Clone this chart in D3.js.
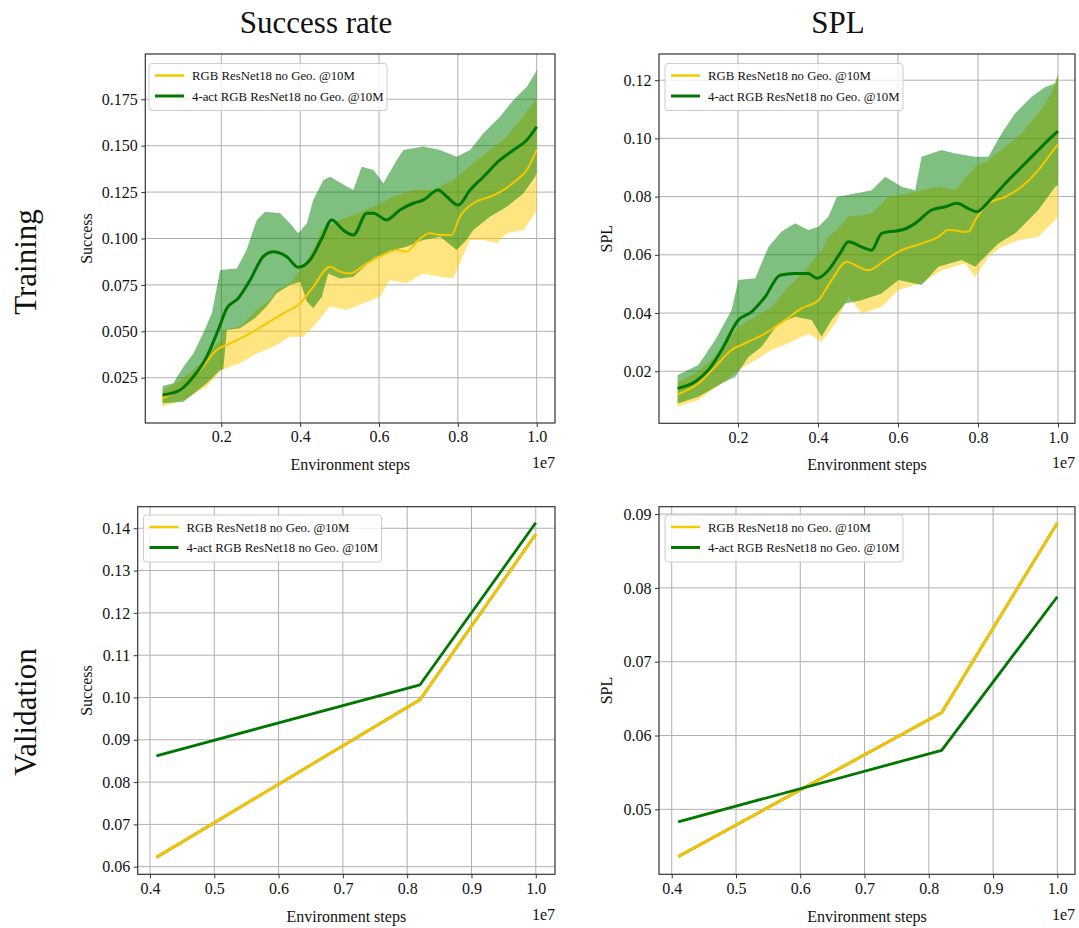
<!DOCTYPE html>
<html>
<head>
<meta charset="utf-8">
<script src="https://cdn.jsdelivr.net/npm/d3@7"></script>
<style>
  body { margin: 0; background: #fff; }
  svg text { font-family: "Liberation Serif", "Times New Roman", serif; fill: #111; }
</style>
</head>
<body>
<svg id="fig" width="1079" height="928"></svg>
<script>
// ---- Series labels and colours ----
const seriesNames = ["RGB ResNet18 no Geo. @10M", "4-act RGB ResNet18 no Geo. @10M"];
const seriesColors = ["#f5c800", "#007800"];
const bandColors = ["#ffcc00", "#008000"];

// ---- Training: success rate (x in units of 1e7 steps) ----
const trSuccYellowMean = [[0.05,0.0139],[0.104,0.0202],[0.146,0.0291],[0.188,0.0399],[0.222,0.0435],[0.273,0.0489],[0.315,0.0543],[0.357,0.0597],[0.40,0.0651],[0.433,0.074],[0.476,0.0848],[0.501,0.0821],[0.526,0.0812],[0.569,0.0866],[0.602,0.0902],[0.645,0.0938],[0.670,0.0929],[0.696,0.0983],[0.729,0.1028],[0.755,0.1019],[0.784,0.1019],[0.805,0.1117],[0.839,0.119],[0.881,0.1225],[0.915,0.1261],[0.949,0.1315],[0.975,0.1369],[1.0,0.1477]];
const trSuccYellowLow = [[0.05,0.0094],[0.104,0.013],[0.163,0.0202],[0.201,0.0291],[0.222,0.0309],[0.247,0.0328],[0.29,0.0381],[0.332,0.0417],[0.374,0.0471],[0.408,0.0471],[0.433,0.0525],[0.476,0.0635],[0.518,0.0615],[0.56,0.0651],[0.602,0.0686],[0.628,0.0776],[0.67,0.0759],[0.712,0.0812],[0.755,0.0794],[0.788,0.0785],[0.805,0.0866],[0.831,0.0992],[0.865,0.0992],[0.899,0.0974],[0.924,0.1028],[0.966,0.1046],[0.996,0.1136],[1.0,0.115]];
const trSuccYellowHigh = [[0.05,0.018],[0.1,0.024],[0.15,0.033],[0.2,0.046],[0.205,0.0507],[0.247,0.0525],[0.29,0.0615],[0.323,0.0669],[0.34,0.0722],[0.37,0.075],[0.4,0.083],[0.433,0.0938],[0.455,0.1046],[0.501,0.110],[0.586,0.1171],[0.636,0.1225],[0.687,0.1261],[0.738,0.1261],[0.788,0.1315],[0.839,0.1405],[0.881,0.1477],[0.924,0.1549],[0.966,0.1656],[0.996,0.1746],[1.0,0.176]];
const trSuccGreenMean = [[0.051,0.0157],[0.095,0.0184],[0.129,0.0255],[0.163,0.0363],[0.192,0.0507],[0.214,0.0624],[0.243,0.0678],[0.273,0.0776],[0.306,0.0902],[0.332,0.0929],[0.366,0.0902],[0.395,0.0845],[0.425,0.0884],[0.455,0.1001],[0.48,0.110],[0.509,0.1046],[0.535,0.1019],[0.569,0.1136],[0.586,0.1136],[0.619,0.110],[0.653,0.1154],[0.687,0.119],[0.712,0.1207],[0.75,0.1261],[0.772,0.1225],[0.801,0.118],[0.831,0.1261],[0.865,0.1333],[0.907,0.1423],[0.941,0.1477],[0.975,0.1531],[1.0,0.1602]];
const trSuccGreenHigh = [[0.051,0.0205],[0.078,0.022],[0.104,0.0309],[0.129,0.038],[0.154,0.0489],[0.176,0.0597],[0.197,0.083],[0.239,0.0839],[0.264,0.0938],[0.281,0.1046],[0.29,0.110],[0.311,0.1144],[0.349,0.1136],[0.374,0.1082],[0.395,0.1028],[0.417,0.1082],[0.433,0.1207],[0.459,0.1315],[0.476,0.1333],[0.518,0.128],[0.535,0.1261],[0.556,0.1387],[0.586,0.1369],[0.611,0.1297],[0.645,0.1423],[0.662,0.1477],[0.712,0.1495],[0.755,0.1477],[0.797,0.1441],[0.831,0.1477],[0.865,0.1567],[0.907,0.1656],[0.941,0.1746],[0.975,0.1818],[0.996,0.189],[1.0,0.191]];
const trSuccGreenLow = [[0.051,0.0112],[0.104,0.0121],[0.163,0.022],[0.197,0.0291],[0.205,0.0295],[0.214,0.0507],[0.247,0.0516],[0.285,0.057],[0.315,0.0633],[0.34,0.0705],[0.374,0.0749],[0.40,0.0767],[0.417,0.066],[0.433,0.0624],[0.455,0.0686],[0.471,0.0812],[0.501,0.0785],[0.535,0.0794],[0.586,0.0893],[0.636,0.0938],[0.67,0.0956],[0.712,0.0992],[0.755,0.101],[0.797,0.0938],[0.822,0.0992],[0.839,0.1046],[0.881,0.1117],[0.924,0.1171],[0.966,0.1243],[0.996,0.1333],[1.0,0.135]];

// ---- Training: SPL ----
const trSplYellowMean = [[0.049,0.0121],[0.101,0.0158],[0.143,0.0215],[0.184,0.0273],[0.218,0.0296],[0.268,0.033],[0.318,0.0376],[0.359,0.0416],[0.401,0.0444],[0.434,0.0513],[0.472,0.0576],[0.501,0.0559],[0.526,0.0547],[0.568,0.0582],[0.609,0.0616],[0.659,0.0639],[0.701,0.0662],[0.726,0.0685],[0.776,0.0679],[0.793,0.0719],[0.826,0.0777],[0.868,0.0799],[0.909,0.0834],[0.951,0.0891],[0.976,0.0937],[1.0,0.098]];
const trSplYellowLow = [[0.049,0.0078],[0.101,0.0101],[0.159,0.0158],[0.201,0.0204],[0.243,0.0238],[0.284,0.0273],[0.326,0.0296],[0.376,0.033],[0.409,0.0301],[0.443,0.0364],[0.476,0.0456],[0.509,0.0399],[0.559,0.0421],[0.601,0.0479],[0.659,0.0502],[0.709,0.0547],[0.768,0.057],[0.793,0.0524],[0.826,0.0593],[0.859,0.0627],[0.901,0.065],[0.951,0.0662],[0.993,0.0719],[1.0,0.073]];
const trSplYellowHigh = [[0.049,0.016],[0.101,0.02],[0.15,0.026],[0.201,0.0353],[0.243,0.0387],[0.284,0.0421],[0.326,0.049],[0.368,0.0547],[0.409,0.0616],[0.426,0.0662],[0.447,0.0685],[0.476,0.0731],[0.534,0.0742],[0.576,0.0799],[0.626,0.0811],[0.659,0.0822],[0.701,0.0834],[0.743,0.0822],[0.793,0.0902],[0.826,0.0925],[0.868,0.0971],[0.909,0.1017],[0.951,0.1086],[0.984,0.1155],[1.0,0.1223]];
const trSplGreenMean = [[0.049,0.0141],[0.0925,0.0164],[0.126,0.0204],[0.159,0.0273],[0.201,0.0376],[0.234,0.0404],[0.268,0.0456],[0.305,0.053],[0.343,0.0536],[0.376,0.0536],[0.397,0.0519],[0.426,0.0547],[0.455,0.0605],[0.476,0.0645],[0.509,0.0627],[0.534,0.0616],[0.559,0.0674],[0.576,0.0679],[0.609,0.0685],[0.643,0.0708],[0.684,0.0754],[0.718,0.0765],[0.747,0.0777],[0.776,0.0759],[0.797,0.0748],[0.826,0.0782],[0.868,0.0845],[0.909,0.0902],[0.951,0.096],[0.98,0.1],[1.0,0.1025]];
const trSplGreenHigh = [[0.049,0.0187],[0.101,0.0221],[0.143,0.0307],[0.184,0.041],[0.201,0.0513],[0.243,0.0519],[0.276,0.0627],[0.309,0.068],[0.343,0.0708],[0.376,0.0685],[0.401,0.0696],[0.426,0.0731],[0.447,0.0799],[0.493,0.0811],[0.534,0.0822],[0.568,0.0868],[0.609,0.0834],[0.643,0.0822],[0.659,0.0937],[0.709,0.096],[0.743,0.0948],[0.793,0.0937],[0.826,0.0937],[0.859,0.1017],[0.893,0.1086],[0.934,0.1143],[0.968,0.1177],[0.993,0.1189],[1.0,0.122]];
const trSplGreenLow = [[0.049,0.0089],[0.101,0.0112],[0.159,0.0158],[0.193,0.0181],[0.226,0.0249],[0.259,0.0284],[0.301,0.0364],[0.343,0.0387],[0.384,0.0376],[0.409,0.0318],[0.434,0.0376],[0.468,0.0433],[0.509,0.0444],[0.559,0.0467],[0.601,0.0513],[0.659,0.0496],[0.701,0.0559],[0.759,0.0582],[0.793,0.0559],[0.826,0.0605],[0.851,0.0639],[0.893,0.0674],[0.951,0.0754],[0.993,0.0834],[1.0,0.084]];

// ---- Validation checkpoints ----
const valSteps = [0.41, 0.82, 1.0];
const valSuccYellow = [0.0622, 0.0995, 0.1386];
const valSuccGreen = [0.0862, 0.1030, 0.1413];
const valSplYellow = [0.0436, 0.0631, 0.0888];
const valSplGreen = [0.0483, 0.0580, 0.0788];

// ---- Tick values ----
const trSuccTicksY = [0.025, 0.05, 0.075, 0.1, 0.125, 0.15, 0.175];
const trSplTicksY = [0.02, 0.04, 0.06, 0.08, 0.10, 0.12];
const trTicksX = [0.2, 0.4, 0.6, 0.8, 1.0];
const valSuccTicksY = [0.06, 0.07, 0.08, 0.09, 0.10, 0.11, 0.12, 0.13, 0.14];
const valSplTicksY = [0.05, 0.06, 0.07, 0.08, 0.09];
const valTicksX = [0.4, 0.5, 0.6, 0.7, 0.8, 0.9, 1.0];

const svg = d3.select("#fig");
const defs = svg.append("defs");
let clipId = 0;

function drawPanel(p) {
  const x = d3.scaleLinear().domain(p.xDomain).range([p.left, p.right]);
  const y = d3.scaleLinear().domain(p.yDomain).range([p.bottom, p.top]);
  const g = svg.append("g");
  const id = "clip" + (clipId++);
  defs.append("clipPath").attr("id", id).append("rect")
    .attr("x", p.left).attr("y", p.top)
    .attr("width", p.right - p.left).attr("height", p.bottom - p.top);

  // grid
  const grid = g.append("g").attr("stroke", "#b0b0b0").attr("stroke-width", 1);
  p.xTicks.forEach(t => grid.append("line")
    .attr("x1", x(t)).attr("x2", x(t)).attr("y1", p.top).attr("y2", p.bottom));
  p.yTicks.forEach(t => grid.append("line")
    .attr("x1", p.left).attr("x2", p.right).attr("y1", y(t)).attr("y2", y(t)));

  const plot = g.append("g").attr("clip-path", `url(#${id})`);
  const line = d3.line().x(d => x(d[0])).y(d => y(d[1]));

  // shaded bands (min/max envelope across runs)
  (p.bands || []).forEach(b => {
    const poly = b.high.concat(b.low.slice().reverse());
    plot.append("path").attr("d", line(poly) + "Z")
      .attr("fill", b.color).attr("fill-opacity", 0.5).attr("stroke", "none");
  });
  // mean / checkpoint lines
  p.lines.forEach(l => {
    const gen = d3.line().x(d => x(d[0])).y(d => y(d[1]))
      .curve(l.smooth ? d3.curveMonotoneX : d3.curveLinear);
    if (l.under) {
      plot.append("path").attr("d", gen(l.data)).attr("fill", "none")
        .attr("stroke", l.under).attr("stroke-width", l.width + 1)
        .attr("stroke-linejoin", "round");
    }
    plot.append("path").attr("d", gen(l.data)).attr("fill", "none")
      .attr("stroke", l.color).attr("stroke-width", l.width)
      .attr("stroke-linejoin", "round").attr("stroke-linecap", "butt");
  });

  // frame
  g.append("rect").attr("x", p.left).attr("y", p.top)
    .attr("width", p.right - p.left).attr("height", p.bottom - p.top)
    .attr("fill", "none").attr("stroke", "#333").attr("stroke-width", 1.2);

  // axes via d3 axis generators
  const xAxis = d3.axisBottom(x).tickValues(p.xTicks).tickFormat(d3.format(".1f"))
    .tickSizeInner(4).tickSizeOuter(0).tickPadding(4);
  const yAxis = d3.axisLeft(y).tickValues(p.yTicks).tickFormat(d3.format(p.yFmt))
    .tickSizeInner(4).tickSizeOuter(0).tickPadding(3.5);
  const xa = g.append("g").attr("transform", `translate(0,${p.bottom})`).call(xAxis);
  const ya = g.append("g").attr("transform", `translate(${p.left},0)`).call(yAxis);
  [xa, ya].forEach(a => {
    a.select(".domain").remove();
    a.selectAll(".tick line").attr("stroke", "#333");
    a.selectAll(".tick text").attr("font-size", p.tickSize).attr("fill", "#111")
      .style("font-family", '"Liberation Serif", serif');
  });

  // axis labels
  g.append("text").attr("x", (p.left + p.right) / 2).attr("y", p.xLabelY)
    .attr("text-anchor", "middle").attr("font-size", 16).text("Environment steps");
  g.append("text").attr("x", p.right).attr("y", p.expY)
    .attr("text-anchor", "end").attr("font-size", 16).text("1e7");
  g.append("text")
    .attr("transform", `translate(${p.yLabelX},${(p.top + p.bottom) / 2}) rotate(-90)`)
    .attr("text-anchor", "middle").attr("font-size", 16).text(p.ylabel);

  // legend
  const lg = g.append("g").attr("transform", `translate(${p.legX},${p.legY})`);
  lg.append("rect").attr("width", p.legW).attr("height", 47).attr("rx", 3)
    .attr("fill", "#fff").attr("fill-opacity", 0.8).attr("stroke", "#cccccc");
  seriesNames.forEach((name, i) => {
    const cy = 12 + i * 20.5;
    lg.append("line").attr("x1", 6).attr("x2", 35).attr("y1", cy).attr("y2", cy)
      .attr("stroke", seriesColors[i]).attr("stroke-width", p.legWidths[i]);
    lg.append("text").attr("x", 43).attr("y", cy + 4.5).attr("font-size", 12.8).text(name);
  });
}

const zip = (xs, ys) => xs.map((v, i) => [v, ys[i]]);

// top-left: training success
drawPanel({
  left: 145.3, right: 555, top: 54, bottom: 423,
  xDomain: [0.0071, 1.0464], yDomain: [0.0006, 0.1994],
  xTicks: trTicksX, yTicks: trSuccTicksY, yFmt: ".3f", tickSize: 16,
  ylabel: "Success", yLabelX: 92, xLabelY: 470, expY: 468,
  bands: [
    { high: trSuccYellowHigh, low: trSuccYellowLow, color: bandColors[0] },
    { high: trSuccGreenHigh, low: trSuccGreenLow, color: bandColors[1] }
  ],
  lines: [
    { data: trSuccYellowMean, color: seriesColors[0], width: 2, smooth: true },
    { data: trSuccGreenMean, color: seriesColors[1], width: 3, smooth: true }
  ],
  legX: 149, legY: 63.5, legW: 238, legWidths: [2.5, 3]
});

// top-right: training SPL
drawPanel({
  left: 659, right: 1075, top: 54, bottom: 423.3,
  xDomain: [0.0025, 1.0425], yDomain: [0.0021, 0.129],
  xTicks: trTicksX, yTicks: trSplTicksY, yFmt: ".2f", tickSize: 16,
  ylabel: "SPL", yLabelX: 612, xLabelY: 470, expY: 468,
  bands: [
    { high: trSplYellowHigh, low: trSplYellowLow, color: bandColors[0] },
    { high: trSplGreenHigh, low: trSplGreenLow, color: bandColors[1] }
  ],
  lines: [
    { data: trSplYellowMean, color: seriesColors[0], width: 2, smooth: true },
    { data: trSplGreenMean, color: seriesColors[1], width: 3, smooth: true }
  ],
  legX: 665, legY: 63.5, legW: 238, legWidths: [2.5, 3]
});

// bottom-left: validation success
drawPanel({
  left: 137.7, right: 555, top: 506.7, bottom: 874.3,
  xDomain: [0.3809, 1.0299], yDomain: [0.0582, 0.1451],
  xTicks: valTicksX, yTicks: valSuccTicksY, yFmt: ".2f", tickSize: 16,
  ylabel: "Success", yLabelX: 92, xLabelY: 922, expY: 920,
  lines: [
    { data: zip(valSteps, valSuccYellow), color: seriesColors[0], width: 2, under: "#c9a600" },
    { data: zip(valSteps, valSuccGreen), color: seriesColors[1], width: 2.8 }
  ],
  legX: 143.5, legY: 515, legW: 238, legWidths: [2.5, 3]
});

// bottom-right: validation SPL
drawPanel({
  left: 659, right: 1075, top: 506.7, bottom: 874.3,
  xDomain: [0.3802, 1.0275], yDomain: [0.0412, 0.0910],
  xTicks: valTicksX, yTicks: valSplTicksY, yFmt: ".2f", tickSize: 16,
  ylabel: "SPL", yLabelX: 612, xLabelY: 922, expY: 920,
  lines: [
    { data: zip(valSteps, valSplYellow), color: seriesColors[0], width: 2, under: "#c9a600" },
    { data: zip(valSteps, valSplGreen), color: seriesColors[1], width: 2.8 }
  ],
  legX: 665, legY: 515, legW: 238, legWidths: [2.5, 3]
});

// column titles and row labels
svg.append("text").attr("x", 316).attr("y", 33).attr("text-anchor", "middle")
  .attr("font-size", 31).text("Success rate");
svg.append("text").attr("x", 838).attr("y", 33).attr("text-anchor", "middle")
  .attr("font-size", 31).text("SPL");
svg.append("text").attr("transform", "translate(36,262) rotate(-90)")
  .attr("text-anchor", "middle").attr("font-size", 31).text("Training");
svg.append("text").attr("transform", "translate(36,712) rotate(-90)")
  .attr("text-anchor", "middle").attr("font-size", 31).text("Validation");
</script>
</body>
</html>
